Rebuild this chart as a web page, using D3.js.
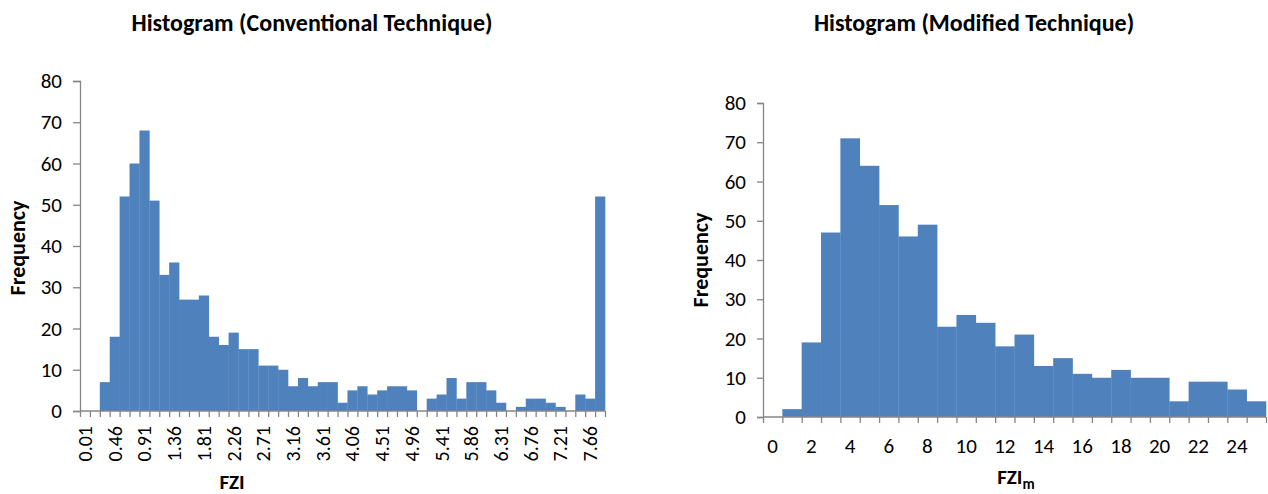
<!DOCTYPE html>
<html>
<head>
<meta charset="utf-8">
<script src="https://cdn.jsdelivr.net/npm/d3@7"></script>
<style>
  body { margin: 0; background: #fff; }
  svg text { font-family: Calibri, Carlito, "Open Sans", sans-serif; fill: #000; }
</style>
</head>
<body>
<svg id="chart" width="1268" height="494"></svg>
<script>
// conventional technique: FZI bins (step 0.15), last bin is the overflow bin
const convBins = d3.range(53).map(i => (0.01 + i * 0.15).toFixed(2));
const convFreq = [0, 0, 7, 18, 52, 60, 68, 51, 33, 36, 27, 27, 28, 18, 16, 19, 15, 15,
  11, 11, 10, 6, 8, 6, 7, 7, 2, 5, 6, 4, 5, 6, 6, 5, 0, 3, 4, 8, 3, 7, 7, 5, 2, 0,
  1, 3, 3, 2, 1, 0, 4, 3, 52];
// modified technique: FZIm bins of width 1
const modBins = d3.range(26).map(String);
const modFreq = [0, 2, 19, 47, 71, 64, 54, 46, 49, 23, 26, 24, 18, 21, 13, 15, 11, 10,
  12, 10, 10, 4, 9, 9, 7, 4];
const yTicks = [0, 10, 20, 30, 40, 50, 60, 70, 80];

const svg = d3.select("#chart");
const barColor = "#4f81bd";
const axisColor = "#868686";

function drawHist(opt) {
  const g = svg.append("g");
  const n = opt.bins.length;

  const x = d3.scaleBand().domain(opt.bins).range([opt.left, opt.right]).padding(0);
  const xEdge = d3.scaleLinear().domain([0, n]).range([opt.left, opt.right]);
  const y = d3.scaleLinear().domain([0, 80]).range([opt.bottom, opt.top]);

  g.selectAll("rect.bar")
    .data(opt.freq.map((v, i) => ({ bin: opt.bins[i], v })))
    .join("rect")
    .attr("class", "bar")
    .attr("x", d => x(d.bin))
    .attr("width", x.bandwidth() + 0.3)
    .attr("y", d => y(d.v))
    .attr("height", d => y(0) - y(d.v))
    .attr("fill", barColor);

  // y axis
  const ya = g.append("g")
    .attr("transform", `translate(${opt.left},0)`)
    .call(d3.axisLeft(y).tickValues(yTicks).tickSize(opt.yTick).tickPadding(opt.yPad));
  ya.select(".domain").attr("stroke", axisColor).attr("stroke-width", 1.3);
  ya.selectAll(".tick line").attr("stroke", axisColor).attr("stroke-width", 1.3);
  ya.selectAll(".tick text").style("font-size", "21px").attr("fill", "#000");

  // x axis: tick marks on category edges
  const xa = g.append("g")
    .attr("transform", `translate(0,${opt.bottom})`)
    .call(d3.axisBottom(xEdge).tickValues(d3.range(n + 1)).tickSize(6).tickFormat(""));
  xa.select(".domain").remove();
  xa.selectAll(".tick line").attr("stroke", axisColor).attr("stroke-width", 1.3);
  g.append("line")
    .attr("x1", opt.left).attr("x2", opt.right)
    .attr("y1", opt.bottom).attr("y2", opt.bottom)
    .attr("stroke", axisColor).attr("stroke-width", 1.3);

  // category labels
  const labelBins = opt.bins.filter((b, i) => i % opt.every === 0 && i < n - 1);
  const xl = g.append("g")
    .attr("transform", `translate(0,${opt.bottom})`)
    .call(d3.axisBottom(x).tickValues(labelBins).tickSize(0));
  xl.select(".domain").remove();
  xl.selectAll(".tick text").style("font-size", opt.rotate ? "20px" : "21px").attr("fill", "#000");
  if (opt.rotate) {
    xl.selectAll(".tick text")
      .attr("transform", "rotate(-90)")
      .attr("text-anchor", "end")
      .attr("x", -15)
      .attr("y", 0)
      .attr("dy", "0.35em");
  } else {
    xl.selectAll(".tick text").attr("y", 21);
  }

  g.append("text")
    .attr("x", opt.titleX).attr("y", 31)
    .attr("text-anchor", "middle")
    .style("font-size", "24px").style("font-weight", "bold")
    .text(opt.title);

  g.append("text")
    .attr("transform", `translate(${opt.yLabelX},${opt.yLabelY}) rotate(-90)`)
    .attr("text-anchor", "middle")
    .style("font-size", "22px").style("font-weight", "bold")
    .text("Frequency");

  const xt = g.append("text")
    .attr("x", opt.xLabelX).attr("y", opt.xLabelY)
    .attr("text-anchor", "middle")
    .style("font-size", "21px").style("font-weight", "bold")
    .text(opt.xLabel);
  if (opt.xSub) {
    xt.append("tspan").attr("dy", 5).style("font-size", "15px").text(opt.xSub);
  }
}

drawHist({
  bins: convBins, freq: convFreq, left: 80, right: 605, top: 81, bottom: 411,
  every: 3, rotate: true, yTick: 7, yPad: 11,
  title: "Histogram (Conventional Technique)", titleX: 312,
  yLabelX: 25, yLabelY: 248, xLabel: "FZI", xLabelX: 232, xLabelY: 489
});

drawHist({
  bins: modBins, freq: modFreq, left: 763, right: 1266, top: 103, bottom: 417,
  every: 2, rotate: false, yTick: 6, yPad: 11,
  title: "Histogram (Modified Technique)", titleX: 974,
  yLabelX: 708, yLabelY: 260, xLabel: "FZI", xSub: "m", xLabelX: 1016, xLabelY: 484
});
</script>
</body>
</html>
